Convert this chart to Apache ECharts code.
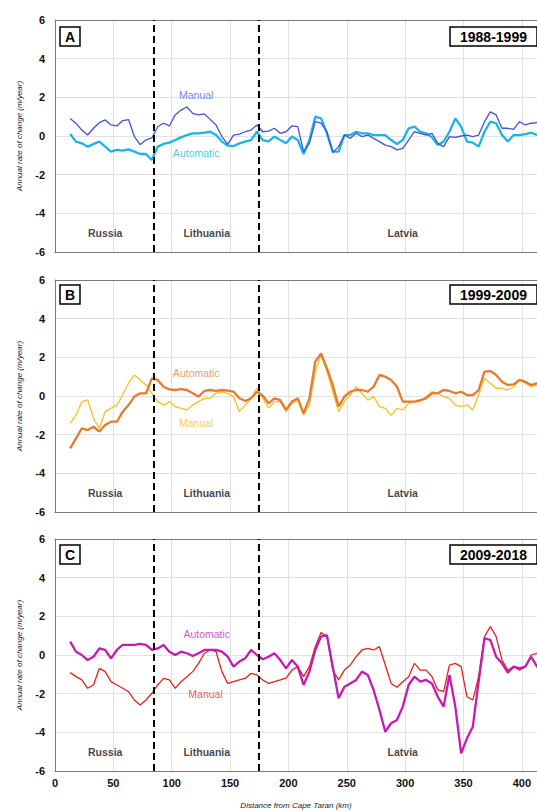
<!DOCTYPE html>
<html><head><meta charset="utf-8">
<script src="https://cdn.jsdelivr.net/npm/echarts@6/dist/echarts.min.js"></script>
<style>html,body{margin:0;padding:0;background:#fff}#c{width:537px;height:812px}</style>
</head><body><div id="c"></div>
<script>
// Distance from Cape Taran (km)
const dist = [13,18,23,28,33,38,43,48,53,58,63,68,73,78,83,88,93,98,103,108,113,118,123,128,133,138,143,148,153,158,163,168,173,178,183,188,193,198,203,208,213,218,223,228,233,238,243,248,253,258,263,268,273,278,283,288,293,298,303,308,313,318,323,328,333,338,343,348,353,358,363,368,373,378,383,388,393,398,403,408,413,418];

// Panel A 1988-1999
const aManual = [0.91,0.65,0.31,0.05,0.40,0.69,0.83,0.57,0.52,0.80, 0.85,-0.03,-0.45,-0.20,-0.10,0.48,0.66,0.52,1.09,1.34, 1.50,1.17,1.09,1.14,0.86,0.57,-0.03,-0.43,0.05,0.10, 0.22,0.31,0.57,0.22,0.25,0.40,0.14,0.22,0.52,0.48, -0.81,-0.38,0.74,0.66,0.22,-0.86,-0.55,0.05,-0.12,0.14, -0.03,0.05,-0.12,-0.29,-0.47,-0.55,-0.72,-0.64,-0.21,0.22, 0.14,0.05,0.14,-0.38,-0.55,-0.03,-0.07,0,0.05,-0.03, 0.05,0.74,1.25,1.09,0.40,0.40,0.34,0.74,0.57,0.66, 0.69,0.70];
const aAuto = [0.10,-0.29,-0.38,-0.55,-0.41,-0.29,-0.55,-0.81,-0.72,-0.76, -0.69,-0.81,-0.93,-0.93,-1.24,-0.55,-0.41,-0.34,-0.21,-0.07, 0.05,0.14,0.14,0.17,0.22,0.05,-0.29,-0.50,-0.52,-0.38, -0.29,-0.21,0.22,-0.21,-0.28,-0.03,-0.21,-0.38,-0.03,-0.21, -0.93,-0.21,1.00,0.91,0.14,-0.81,-0.81,0.05,0.05,0.22, 0.14,0.14,0.05,0.05,0.05,-0.21,-0.41,-0.21,0.40,0.48, 0.22,0.14,-0.07,-0.47,-0.29,0.22,0.91,0.48,-0.29,-0.34, -0.55,0.22,0.74,0.66,0.05,-0.29,0.05,0.05,0.10,0.17, 0.05,0.05];

// Panel B 1999-2009
const bManual = [-1.41,-0.98,-0.30,-0.20,-1.16,-1.67,-0.81,-0.64,-0.47,0.05, 0.66,1.09,0.83,0.57,0.14,-0.29,-0.47,-0.29,-0.55,-0.64, -0.72,-0.47,-0.29,-0.12,-0.12,0.14,0.22,0.14,-0.03,-0.81, -0.47,-0.12,0.40,-0.12,-0.62,-0.29,-0.29,-0.81,-0.38,-0.21, -0.98,-0.47,1.26,2.12,1.26,0.22,-0.81,-0.29,0.05,0.48, 0.14,-0.21,-0.03,-0.55,-0.64,-1.00,-0.64,-0.72,-0.38,-0.29, -0.29,-0.03,0.22,0.14,-0.03,-0.12,-0.47,-0.55,-0.47,-0.72, 0.05,0.91,0.66,0.40,0.40,0.31,0.48,0.83,0.66,0.48, 0.57,0.55];
const bAuto = [-2.71,-2.19,-1.67,-1.76,-1.59,-1.84,-1.50,-1.33,-1.33,-0.81, -0.47,-0.03,0.14,0.14,0.91,0.83,0.48,0.34,0.31,0.36, 0.31,0.14,-0.03,0.26,0.31,0.26,0.31,0.28,0.22,-0.12, -0.26,-0.12,0.22,0.02,-0.38,-0.12,-0.21,-0.72,-0.29,-0.12, -0.90,-0.12,1.78,2.20,1.43,0.57,-0.55,-0.03,0.22,0.31, 0.31,0.22,0.48,1.09,1.00,0.83,0.48,-0.29,-0.29,-0.29, -0.21,-0.12,0.14,0.14,0.31,0.26,0.14,0.22,0.05,0.05, 0.31,1.26,1.29,1.09,0.74,0.57,0.60,0.83,0.74,0.57, 0.66,0.62];

// Panel C 2009-2018
const cManual = [-0.91,-1.12,-1.29,-1.72,-1.55,-0.69,-0.86,-1.38,-1.55,-1.72, -1.90,-2.33,-2.59,-2.33,-1.98,-1.55,-1.21,-1.29,-1.72,-1.38, -1.12,-0.86,-0.43,0.09,0.26,0.17,-0.86,-1.47,-1.38,-1.29, -1.21,-0.95,-1.03,-1.29,-1.47,-1.38,-1.29,-1.20,-0.78,-0.60, -1.12,-0.60,0.43,1.16,0.95,-0.78,-1.29,-0.78,-0.52,-0.09, 0.26,0.34,0.26,0.43,-0.52,-1.47,-1.67,-1.38,-1.12,-0.43, -0.78,-0.78,-1.12,-1.81,-1.90,-0.52,-0.43,-0.60,-2.16,-2.33, -1.12,0.95,1.47,0.95,-0.26,-0.78,-0.60,-0.78,-0.60,0, 0.09,0.10];
const cAuto = [0.69,0.17,0,-0.26,-0.09,0.34,0.26,-0.17,0.26,0.52, 0.52,0.52,0.57,0.52,0.26,0.34,0.52,0.17,0,0.17, 0.09,-0.05,0.09,0.26,0.26,0.26,0.17,-0.09,-0.60,-0.34, -0.17,0.26,0,-0.22,-0.09,0.09,-0.26,-0.69,-0.26,-0.60, -1.55,-0.86,0.26,0.95,1.03,-0.60,-2.24,-1.64,-1.47,-1.29, -0.86,-1.03,-1.81,-2.84,-3.97,-3.53,-3.36,-2.67,-1.55,-1.12, -1.38,-1.29,-1.47,-2.16,-2.67,-1.03,-2.67,-5.09,-4.31,-3.71, -1.38,0.86,0.78,-0.09,-0.43,-0.91,-0.60,-0.69,-0.60,-0.09, -0.60,-0.80];

const panelLetters = ['A','B','C'];
const periods = ['1988-1999','1999-2009','2009-2018'];
const regionNames = ['Russia','Lithuania','Latvia'];
const regionX = [43,130,298];
const borders = [85,175];
const seriesNames = ['Manual','Automatic'];

const FONT = '"Liberation Sans", Arial, Helvetica, sans-serif';
const XMAX = 413;
const panels = [
  {man:aManual, auto:aAuto, manColor:'#4354d6', autoColor:'#1cb3e6', manLbl:[121,2.12,'#4a68df'], autoLbl:[121,-0.9,'#22b8ea'], manTop:true},
  {man:bManual, auto:bAuto, manColor:'#f3c21e', autoColor:'#e67a30', manLbl:[121,-1.38,'#f0c020'], autoLbl:[121,1.17,'#e88040'], manTop:false},
  {man:cManual, auto:cAuto, manColor:'#e2231b', autoColor:'#c41cb2', manLbl:[129,-2.03,'#e23028'], autoLbl:[130,1.09,'#c42cb8'], manTop:false}
];
const tops = [20,280,539];
const boxTops = [27,285,545];
const BORDER = '#7a7a7a';

const zip = arr => arr.map((v,i)=>[dist[i], v]);

const grid=[], xAxis=[], yAxis=[], series=[], title=[];
panels.forEach((p,i)=>{
  grid.push({left:55, right:0, top:tops[i], height:232, show:false});
  xAxis.push({gridIndex:i, type:'value', min:0, max:XMAX, interval:50, position:'bottom',
    axisLine:{show:true, onZero:false, lineStyle:{color:BORDER, width:1}}, axisTick:{show:false},
    splitLine:{show:true, lineStyle:{color:'#e2e2e2', width:1}},
    axisLabel:{show:i===2, showMaxLabel:false, fontFamily:FONT, fontWeight:'bold', fontSize:11, color:'#111', margin:6},
    name: i===2 ? 'Distance from Cape Taran (km)' : '', nameLocation:'middle', nameGap:30,
    nameTextStyle:{fontFamily:FONT, fontStyle:'italic', fontSize:8, color:'#222'}});
  yAxis.push({gridIndex:i, type:'value', min:-6, max:6, interval:2,
    axisLine:{show:true, onZero:false, lineStyle:{color:BORDER, width:1}}, axisTick:{show:false},
    splitLine:{show:true, lineStyle:{color:'#e2e2e2', width:1}},
    axisLabel:{fontFamily:FONT, fontWeight:'bold', fontSize:11, color:'#111', margin:10},
    name:'Annual rate of change (m/year)', nameLocation:'middle', nameGap:32,
    nameTextStyle:{fontFamily:FONT, fontStyle:'italic', fontSize:8, color:'#222'}});
});
// top frame lines
panels.forEach((p,i)=>{
  xAxis.push({gridIndex:i, type:'value', min:0, max:XMAX, position:'top',
    axisLine:{show:true, onZero:false, lineStyle:{color:BORDER, width:1}}, axisTick:{show:false},
    axisLabel:{show:false}, splitLine:{show:false}});
});

panels.forEach((p,i)=>{
  const manS = {type:'line', name:seriesNames[0], xAxisIndex:i, yAxisIndex:i, data:zip(p.man), showSymbol:false, symbol:'none',
    lineStyle:{color:p.manColor, width:1.3}, z: p.manTop?4:3, animation:false};
  const autoS = {type:'line', name:seriesNames[1], xAxisIndex:i, yAxisIndex:i, data:zip(p.auto), showSymbol:false, symbol:'none',
    lineStyle:{color:p.autoColor, width:2.3}, z: p.manTop?3:4, animation:false};
  series.push(manS, autoS);
  // dashed country borders
  series.push({type:'line', xAxisIndex:i, yAxisIndex:i, data:[], silent:true, animation:false,
    markLine:{symbol:['none','none'], silent:true, animation:false, label:{show:false},
      lineStyle:{color:'#000', type:[7,4], width:2}, data: borders.map(b=>({xAxis:b}))}, z:5});
  // region labels
  series.push({type:'scatter', xAxisIndex:i, yAxisIndex:i, symbolSize:0, itemStyle:{color:'rgba(0,0,0,0)'}, silent:true, animation:false,
    data: regionNames.map((n,k)=>({name:n, value:[regionX[k], -5]})),
    label:{show:true, position:'inside', formatter:'{b}', fontFamily:FONT, fontWeight:'bold', fontSize:10.5, color:'#111'}, z:6});
  // series name annotations
  series.push({type:'scatter', xAxisIndex:i, yAxisIndex:i, symbolSize:0, itemStyle:{color:'rgba(0,0,0,0)'}, silent:true, animation:false,
    data:[{name:seriesNames[0], value:[p.manLbl[0], p.manLbl[1]], label:{color:p.manLbl[2]}},
          {name:seriesNames[1], value:[p.autoLbl[0], p.autoLbl[1]], label:{color:p.autoLbl[2]}}],
    label:{show:true, position:'inside', formatter:'{b}', fontFamily:FONT, fontSize:10.5}, z:6});

  title.push({text:panelLetters[i], left:60, top:boxTops[i], padding:[2,5,1,5], borderColor:'#000', borderWidth:1.5,
    backgroundColor:'#fff', textStyle:{fontFamily:FONT, fontWeight:'bold', fontSize:14, color:'#000', lineHeight:16}});
  title.push({text:periods[i], left:450, top:boxTops[i], padding:[2,10,1,10], borderColor:'#000', borderWidth:1.5,
    backgroundColor:'#fff', textStyle:{fontFamily:FONT, fontWeight:'bold', fontSize:14, color:'#000', lineHeight:16}});
});

const chart = echarts.init(document.getElementById('c'), null, {renderer:'svg'});
chart.setOption({animation:false, backgroundColor:'#fff', title, grid, xAxis, yAxis, series});
</script></body></html>
